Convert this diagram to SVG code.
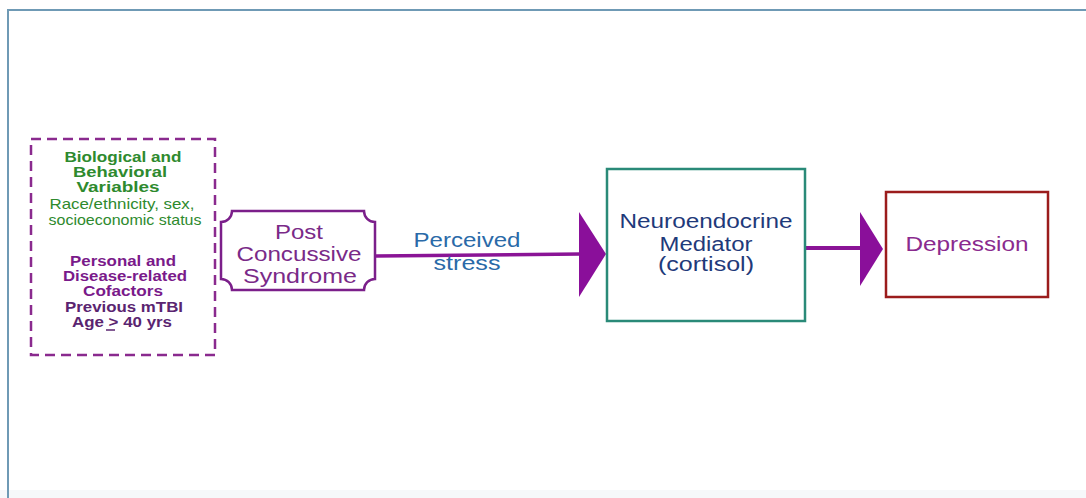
<svg xmlns="http://www.w3.org/2000/svg" width="1086" height="498" viewBox="0 0 1086 498">
<style>
text{font-family:"Liberation Sans",Arial,sans-serif;text-anchor:middle}
.g{fill:#2e8a2e;font-size:14.5px}
.gb{fill:#2e8a2e;font-size:14.5px;font-weight:bold}
.pb{fill:#7a1a8a;font-size:14.5px;font-weight:bold}
.db{fill:#5a2470;font-size:14.5px;font-weight:bold}
.big{font-size:19.5px}
.conn{stroke:#8a1496;fill:none}
.head{fill:#8a0f9a}
</style>
<rect x="0" y="0" width="1086" height="498" fill="#ffffff"/>
<rect x="0" y="490" width="1086" height="8" fill="#f6f8fa"/>
<rect x="8" y="10" width="1100" height="520" fill="none" stroke="#6f9ab5" stroke-width="2"/>

<g id="factors">
<rect x="31" y="139" width="184" height="216" fill="none" stroke="#8a2a8e" stroke-width="2.5" stroke-dasharray="10,6"/>
<text class="gb" x="123" y="162" textLength="117" lengthAdjust="spacingAndGlyphs">Biological and</text>
<text class="gb" x="120" y="177" textLength="94" lengthAdjust="spacingAndGlyphs">Behavioral</text>
<text class="gb" x="118" y="192" textLength="83" lengthAdjust="spacingAndGlyphs">Variables</text>
<text class="g" x="122" y="209" textLength="145" lengthAdjust="spacingAndGlyphs">Race/ethnicity, sex,</text>
<text class="g" x="125" y="225" textLength="153" lengthAdjust="spacingAndGlyphs">socioeconomic status</text>
<text class="pb" x="123" y="266" textLength="106" lengthAdjust="spacingAndGlyphs">Personal and</text>
<text class="pb" x="125" y="281" textLength="124" lengthAdjust="spacingAndGlyphs">Disease-related</text>
<text class="pb" x="123" y="296" textLength="80" lengthAdjust="spacingAndGlyphs">Cofactors</text>
<text class="db" x="124" y="312" textLength="118" lengthAdjust="spacingAndGlyphs">Previous mTBI</text>
<text class="db" x="122" y="327" textLength="100" lengthAdjust="spacingAndGlyphs">Age &gt; 40 yrs</text>
<line x1="106" y1="330" x2="115" y2="330" stroke="#5a2470" stroke-width="1.5"/>
</g>

<g id="pcs">
<path d="M232,211 H364 A11,11 0 0 0 375,222 V279 A11,11 0 0 0 364,290 H232 A11,11 0 0 0 221,279 V222 A11,11 0 0 0 232,211 Z" fill="#ffffff" stroke="#7b1f8a" stroke-width="2.5"/>
<text class="big" x="299" y="239" fill="#7a2a88" textLength="48" lengthAdjust="spacingAndGlyphs">Post</text>
<text class="big" x="299" y="261" fill="#7a2a88" textLength="125" lengthAdjust="spacingAndGlyphs">Concussive</text>
<text class="big" x="300" y="283" fill="#7a2a88" textLength="114" lengthAdjust="spacingAndGlyphs">Syndrome</text>
</g>

<g id="connectors">
<line class="conn" x1="376" y1="256" x2="581" y2="254" stroke-width="3.5"/>
<polygon class="head" points="579,212 606,254 579,297"/>
<text class="big" x="467" y="247" fill="#2a6aa8" textLength="107" lengthAdjust="spacingAndGlyphs">Perceived</text>
<text class="big" x="467" y="270" fill="#2a6aa8" textLength="67" lengthAdjust="spacingAndGlyphs">stress</text>
<line class="conn" x1="806" y1="248" x2="862" y2="248" stroke-width="4"/>
<polygon class="head" points="860,212 883,249 860,286"/>
</g>

<g id="mediator">
<rect x="607" y="169" width="198" height="152" fill="#ffffff" stroke="#2a8a78" stroke-width="2.5"/>
<text class="big" x="706" y="228" fill="#1f3a7a" textLength="173" lengthAdjust="spacingAndGlyphs">Neuroendocrine</text>
<text class="big" x="706" y="251" fill="#1f3a7a" textLength="93" lengthAdjust="spacingAndGlyphs">Mediator</text>
<text class="big" x="706" y="271" fill="#1f3a7a" textLength="96" lengthAdjust="spacingAndGlyphs">(cortisol)</text>
</g>

<g id="depression">
<rect x="886" y="192" width="162" height="105" fill="#ffffff" stroke="#9b1c1c" stroke-width="2.5"/>
<text class="big" x="967" y="251" fill="#8a2a8e" textLength="123" lengthAdjust="spacingAndGlyphs">Depression</text>
</g>
</svg>
